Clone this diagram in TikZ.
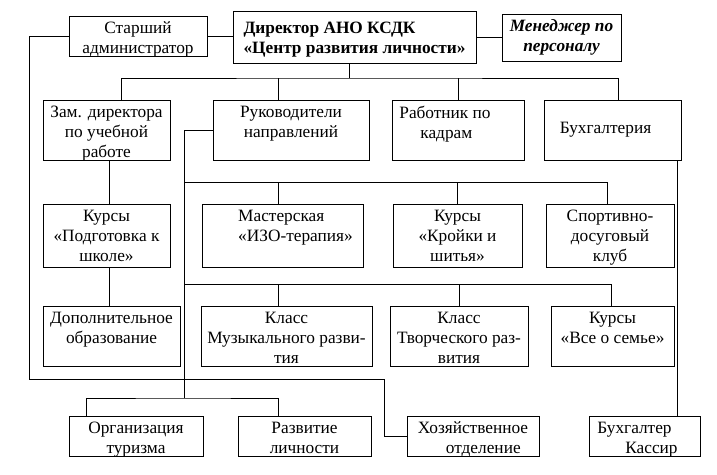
\documentclass[tikz,border=0pt]{standalone}
\usepackage{fontspec}
\setmainfont{Liberation Serif}
\newcommand\orgfont{\fontsize{17.3}{20}\selectfont}

\begin{document}
\begin{tikzpicture}[x=1pt,y=-1pt,line width=0.9pt,font=\orgfont,
  boxs/.style={draw,anchor=north west,inner sep=0pt,outer sep=0pt},
  txts/.style={anchor=north,align=center,inner sep=5.5pt}]
  \useasboundingbox (0,0) rectangle (717,474);
  % top
  \node[boxs,minimum width=138pt,minimum height=40pt,label={[txts]north:{Старший\\администратор}}] (adm) at (69,16) {};
  \node[boxs,minimum width=243pt,minimum height=52pt,label={[txts,align=left,yshift=-5pt,font=\orgfont\bfseries]north:{Директор АНО КСДК\\«Центр развития личности»}}] (dir) at (233,11) {};
  \node[boxs,minimum width=119pt,minimum height=47pt,label={[txts,font=\orgfont\bfseries\itshape]north:{Менеджер по\\персоналу}}] (hr) at (502,14) {};
  % second row
  \node[boxs,minimum width=127pt,minimum height=60pt,label={[txts]north:{Зам. директора\\по учебной\\работе}}] (zam) at (43,100) {};
  \node[boxs,minimum width=156pt,minimum height=60pt,label={[txts]north:{Руководители\\направлений}}] (ruk) at (213,100) {};
  \node[boxs,minimum width=132pt,minimum height=60pt,label={[txts,align=left,xshift=-13pt]north:{Работник по\\\hspace*{21pt}кадрам}}] (kadr) at (392,100) {};
  \node[boxs,minimum width=137pt,minimum height=60pt,label={[txts,anchor=center,xshift=-7pt]center:Бухгалтерия}] (buh) at (544,100) {};
  % third row
  \node[boxs,minimum width=127pt,minimum height=63pt,label={[txts]north:{Курсы\\«Подготовка к\\школе»}}] (kps) at (43,204) {};
  \node[boxs,minimum width=161pt,minimum height=63pt,label={[txts,align=left,xshift=13pt]north:{Мастерская\\«ИЗО-терапия»}}] (izo) at (202,204) {};
  \node[boxs,minimum width=129pt,minimum height=63pt,label={[txts]north:{Курсы\\«Кройки и\\шитья»}}] (kroy) at (393,204) {};
  \node[boxs,minimum width=128pt,minimum height=63pt,label={[txts]north:{Спортивно-\\досуговый\\клуб}}] (sport) at (546,204) {};
  % fourth row
  \node[boxs,minimum width=137pt,minimum height=60pt,label={[txts]north:{Дополнительное\\образование}}] (dop) at (43,306) {};
  \node[boxs,minimum width=171pt,minimum height=60pt,label={[txts]north:{Класс\\Музыкального разви-\\тия}}] (muz) at (201,306) {};
  \node[boxs,minimum width=138pt,minimum height=60pt,label={[txts]north:{Класс\\Творческого раз-\\вития}}] (tvor) at (390,306) {};
  \node[boxs,minimum width=123pt,minimum height=60pt,label={[txts]north:{Курсы\\«Все о семье»}}] (sem) at (551,306) {};
  % bottom
  \node[boxs,minimum width=134pt,minimum height=40pt,label={[txts]north:{Организация\\туризма}}] (tur) at (69,416) {};
  \node[boxs,minimum width=133pt,minimum height=40pt,label={[txts]north:{Развитие\\личности}}] (lich) at (238,416) {};
  \node[boxs,minimum width=132pt,minimum height=40pt,label={[txts,align=left]north:{Хозяйственное\\\hspace*{28pt}отделение}}] (hoz) at (407,416) {};
  \node[boxs,minimum width=111pt,minimum height=40pt,label={[txts,align=left,xshift=-7pt]north:{Бухгалтер\\\hspace*{28pt}Кассир}}] (kas) at (589,416) {};

  \coordinate (bus1) at (349,78);
  \coordinate (bus3) at (184,182);
  \coordinate (bus4) at (184,284);
  \coordinate (trk) at (184,398);
  \coordinate (lp1) at (29,379);
  \coordinate (lp2) at (384,379);

  \draw (adm.east) -- (adm.east -| dir.west);
  \draw (dir.east) -- (dir.east -| hr.west);
  \draw (dir.south -| bus1) -- (bus1);
  \draw ([xshift=15pt]zam.north) |- (bus1) -| ([xshift=6pt]buh.north);
  \draw ([xshift=-13pt]ruk.north) -- ([xshift=-13pt]ruk.north |- bus1);
  \draw (kadr.north) -- (kadr.north |- bus1);
  % left branch
  \draw ([xshift=3pt]zam.south) -- ([xshift=3pt]kps.north);
  \draw ([xshift=3pt]kps.south) -- ([xshift=3pt]kps.south |- dop.north);
  \draw (adm.west) -| (lp1) -- (lp2) |- (hoz.west);
  % directions
  \draw (ruk.west) -| (trk);
  \draw (bus3) -| ([xshift=-3pt]sport.north);
  \draw ([xshift=-4pt]izo.north) -- ([xshift=-4pt]izo.north |- bus3);
  \draw (kroy.north) -- (kroy.north |- bus3);
  \draw (bus4) -| ([xshift=-1pt]sem.north);
  \draw ([xshift=-8pt]muz.north) -- ([xshift=-8pt]muz.north |- bus4);
  \draw (tvor.north) -- (tvor.north |- bus4);
  \draw ([xshift=17pt]tur.north west) |- (trk) -| ([xshift=-26pt]lich.north);
  % accounting
  \draw ([xshift=-4pt]buh.south east) -- ([xshift=-4pt]buh.south east |- kas.north);
\end{tikzpicture}
\end{document}
